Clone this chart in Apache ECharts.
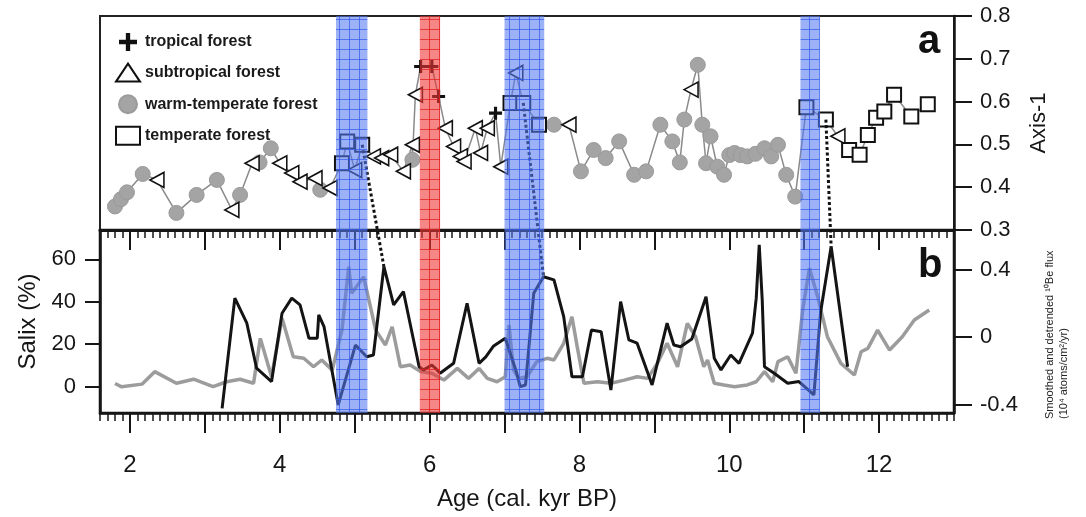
<!DOCTYPE html>
<html>
<head>
<meta charset="utf-8">
<script src="https://cdn.jsdelivr.net/npm/echarts@6/dist/echarts.min.js"></script>
<style>
  html, body { margin: 0; padding: 0; background: #fff; }
  #chart { width: 1086px; height: 517px; }
</style>
</head>
<body>
<div id="chart"></div>
<script>
// Panel a: pollen-based Axis-1 scores by vegetation type (age kyr BP, score)
const tropicalForest = [[5.88,0.682],[6.03,0.682],[6.12,0.612],[6.88,0.573]];
const subtropicalForest = [
  [2.36,0.417],[3.36,0.347],[3.63,0.456],[4.0,0.456],[4.16,0.433],[4.27,0.413],
  [4.47,0.421],[4.67,0.398],[5.0,0.44],[5.25,0.472],[5.36,0.468],[5.48,0.476],[5.65,0.437],
  [5.77,0.499],[5.81,0.616],[6.21,0.538],[6.32,0.495],[6.41,0.472],[6.46,0.46],
  [6.61,0.538],[6.68,0.48],[6.77,0.538],[6.95,0.448],[7.15,0.667],[7.86,0.546],
  [9.49,0.628],[11.45,0.519]
];
const warmTemperateForest = [
  [1.8,0.355],[1.88,0.372],[1.96,0.388],[2.17,0.431],[2.62,0.34],[2.89,0.382],
  [3.16,0.417],[3.47,0.382],[3.73,0.458],[3.88,0.491],[4.54,0.394],[5.77,0.464],
  [7.66,0.546],[8.02,0.437],[8.19,0.487],[8.35,0.468],[8.53,0.507],[8.73,0.429],
  [8.89,0.437],[9.08,0.546],[9.24,0.507],[9.34,0.458],[9.40,0.558],[9.58,0.686],
  [9.64,0.546],[9.69,0.456],[9.75,0.519],[9.84,0.448],[9.93,0.429],[10.0,0.475],
  [10.07,0.48],[10.15,0.475],[10.24,0.472],[10.35,0.478],[10.47,0.491],[10.56,0.472],
  [10.65,0.499],[10.76,0.429],[10.88,0.378]
];
const temperateForest = [
  [4.83,0.456],[4.9,0.507],[5.1,0.499],[7.08,0.597],[7.25,0.597],[7.46,0.546],
  [11.03,0.587],[11.29,0.558],[11.6,0.487],[11.74,0.476],[11.85,0.522],[11.96,0.562],
  [12.07,0.577],[12.2,0.616],[12.43,0.565],[12.65,0.594]
];

// Panel b: Salix percentage and 10Be flux
const salixPct = [
  [3.23,-10.2],[3.40,41.7],[3.56,29.9],[3.69,8.7],[3.89,2.4],[4.03,34.6],[4.16,41.7],
  [4.27,38.5],[4.39,22.8],[4.50,22.8],[4.52,33.8],[4.59,28.3],[4.78,-8.6],[5.01,19.6],
  [5.16,14.1],[5.25,14.9],[5.39,56.5],[5.52,38.5],[5.65,44.8],[5.86,9.4],[5.92,7.9],
  [6.03,10.2],[6.10,7.9],[6.14,6.3],[6.32,11.0],[6.50,39.3],[6.66,11.0],[6.75,14.0],
  [6.85,19.0],[7.01,22.8],[7.15,7.9],[7.21,0.0],[7.28,0.8],[7.39,44.0],[7.52,51.8],
  [7.66,50.3],[7.79,33.0],[7.90,4.7],[8.04,4.7],[8.16,26.7],[8.29,25.9],[8.42,-1.6],
  [8.55,40.1],[8.66,22.0],[8.77,20.5],[8.97,0.8],[9.17,29.9],[9.26,19.6],[9.35,18.8],
  [9.50,22.5],[9.69,42.4],[9.80,13.4],[9.89,7.9],[10.02,14.9],[10.13,11.0],[10.31,25.2],
  [10.36,41.7],[10.40,66.8],[10.44,40.9],[10.47,9.4],[10.60,6.3],[10.78,1.6],[10.93,2.4],
  [11.13,-3.9],[11.22,35.3],[11.36,66.0],[11.58,9.4]
];
const be10Flux = [
  [1.80,-0.275],[1.89,-0.295],[2.16,-0.279],[2.33,-0.205],[2.62,-0.274],[2.85,-0.25],
  [3.11,-0.294],[3.29,-0.265],[3.47,-0.25],[3.65,-0.274],[3.74,-0.008],[3.89,-0.235],
  [4.03,0.111],[4.18,-0.117],[4.32,-0.126],[4.45,-0.176],[4.56,-0.136],[4.70,-0.196],
  [4.83,0.041],[4.92,0.417],[4.96,0.259],[5.12,0.357],[5.28,0.041],[5.41,-0.047],
  [5.50,0.061],[5.61,-0.176],[5.74,-0.166],[5.88,-0.205],[6.03,-0.215],[6.19,-0.255],
  [6.37,-0.186],[6.52,-0.245],[6.66,-0.186],[6.77,-0.245],[6.90,-0.265],[7.01,-0.235],
  [7.06,0.071],[7.12,-0.196],[7.19,-0.245],[7.30,-0.235],[7.43,-0.146],[7.57,-0.126],
  [7.66,-0.136],[7.79,-0.037],[7.90,0.12],[7.97,-0.057],[8.06,-0.274],[8.24,-0.265],
  [8.42,-0.274],[8.60,-0.255],[8.77,-0.235],[8.91,-0.245],[9.04,-0.156],[9.17,-0.037],
  [9.31,-0.176],[9.44,0.081],[9.55,0.002],[9.66,-0.176],[9.71,-0.136],[9.80,-0.274],
  [9.93,-0.284],[10.07,-0.294],[10.24,-0.284],[10.36,-0.265],[10.47,-0.205],[10.58,-0.265],
  [10.65,-0.146],[10.78,-0.117],[10.89,-0.215],[10.98,0.16],[11.07,0.407],[11.18,0.239],
  [11.31,0.002],[11.49,-0.156],[11.67,-0.225],[11.76,-0.087],[11.85,-0.067],[11.98,0.041],
  [12.14,-0.077],[12.31,0.002],[12.47,0.101],[12.67,0.16]
];

// Abrupt event intervals (kyr BP)
const coldEvents = [[4.75,5.17],[7.0,7.53],[10.95,11.21]];
const warmEvents = [[5.87,6.14]];

// Tie lines from an Axis-1 sample to a Salix peak
const tieLines = [
  [[5.1,0.499],[5.39,56.5]],
  [[7.25,0.597],[7.52,51.8]],
  [[11.29,0.558],[11.36,66.0]]
];

// Axis ticks and labels
const ageMin = 1.6, ageMax = 13.0;
const ageMajorTicks = [2,3,4,5,6,7,8,9,10,11,12];
const ageLabels = [2,4,6,8,10,12];
const salixTicks = [0,20,40,60];
const beTicks = [-0.4,0,0.4];

const FONT = '"Liberation Sans", Arial, Helvetica, sans-serif';
const INK = '#161616';
const PLUS = 'path://M3.8,0H6.2V3.8H10V6.2H6.2V10H3.8V6.2H0V3.8H3.8Z';

function gridPattern(fill, line) {
  const c = document.createElement('canvas');
  c.width = 10; c.height = 10;
  const g = c.getContext('2d');
  g.fillStyle = fill; g.fillRect(0, 0, 10, 10);
  g.fillStyle = line; g.fillRect(9, 0, 1, 10); g.fillRect(0, 9, 10, 1);
  return { image: c, repeat: 'repeat' };
}
const bluePattern = gridPattern('rgba(85,120,240,0.58)', 'rgba(50,90,235,0.7)');
const redPattern = gridPattern('rgba(240,55,55,0.6)', 'rgba(225,30,30,0.75)');

function bandAreas() {
  const list = [];
  coldEvents.forEach(b => list.push([{ xAxis: b[0], itemStyle: { color: bluePattern, opacity: 1 } }, { xAxis: b[1] }]));
  warmEvents.forEach(b => list.push([{ xAxis: b[0], itemStyle: { color: redPattern, opacity: 1 } }, { xAxis: b[1] }]));
  return list;
}

// all Axis-1 samples in age order, joined by a thin line
const allSamples = [].concat(tropicalForest, subtropicalForest, warmTemperateForest, temperateForest)
  .slice().sort((a, b) => a[0] - b[0]);

const chart = echarts.init(document.getElementById('chart'), null, { renderer: 'canvas' });

const tickLine = { color: INK, width: 2 };
const labelStyle = { color: INK, fontFamily: FONT, fontSize: 22 };

const option = {
  backgroundColor: '#fff',
  animation: false,
  textStyle: { fontFamily: FONT },
  grid: [
    { left: 100, right: 132, top: 16, height: 214, show: true, borderColor: '#222', borderWidth: 2, backgroundColor: 'transparent' },
    { left: 100, right: 132, top: 230, height: 183, show: true, borderColor: '#111', borderWidth: 2.5, backgroundColor: 'transparent' }
  ],
  legend: {
    orient: 'vertical', left: 110, top: 28,
    itemWidth: 24, itemHeight: 18, itemGap: 11.6,
    symbolRotate: 0,
    textStyle: { fontFamily: FONT, fontSize: 16, fontWeight: 'bold', color: '#1a1a1a' },
    data: [
      { name: 'tropical forest', icon: PLUS },
      { name: 'subtropical forest', icon: 'triangle' },
      { name: 'warm-temperate forest', icon: 'circle' },
      { name: 'temperate forest', icon: 'rect' }
    ]
  },
  xAxis: [
    { gridIndex: 0, type: 'value', min: ageMin, max: ageMax, show: false },
    { gridIndex: 1, type: 'value', min: ageMin, max: ageMax, position: 'bottom',
      axisLine: { show: true, onZero: false, lineStyle: { color: INK, width: 2.5 } },
      axisTick: { show: true, customValues: ageMajorTicks, length: 20, lineStyle: tickLine },
      axisLabel: { show: true, customValues: ageLabels, margin: 40, ...labelStyle, fontSize: 24 },
      splitLine: { show: false },
      name: 'Age (cal. kyr BP)', nameLocation: 'middle', nameGap: 74,
      nameTextStyle: { color: INK, fontFamily: FONT, fontSize: 24 } },
    { gridIndex: 1, type: 'value', min: ageMin, max: ageMax, interval: 0.1, position: 'bottom',
      axisLine: { show: false, onZero: false },
      axisTick: { show: true, length: 8, lineStyle: { color: INK, width: 1.5 } },
      axisLabel: { show: false }, splitLine: { show: false } },
    { gridIndex: 1, type: 'value', min: ageMin, max: ageMax, position: 'top',
      axisLine: { show: true, onZero: false, lineStyle: { color: INK, width: 3 } },
      axisTick: { show: true, inside: true, customValues: ageMajorTicks, length: 20, lineStyle: tickLine },
      axisLabel: { show: false }, splitLine: { show: false } },
    { gridIndex: 1, type: 'value', min: ageMin, max: ageMax, interval: 0.1, position: 'top',
      axisLine: { show: false, onZero: false },
      axisTick: { show: true, inside: true, length: 8, lineStyle: { color: INK, width: 1.5 } },
      axisLabel: { show: false }, splitLine: { show: false } }
  ],
  yAxis: [
    { gridIndex: 0, type: 'value', position: 'right', min: 0.3, max: 0.8, interval: 0.1,
      axisLine: { show: true, onZero: false, lineStyle: { color: INK, width: 2.5 } },
      axisTick: { show: true, length: 18, lineStyle: tickLine },
      axisLabel: { show: true, margin: 26, ...labelStyle, formatter: v => v.toFixed(1) },
      splitLine: { show: false },
      name: 'Axis-1', nameLocation: 'middle', nameGap: 74, nameRotate: 90,
      nameTextStyle: { color: INK, fontFamily: FONT, fontSize: 22 } },
    { gridIndex: 1, type: 'value', position: 'left', min: -12.4, max: 73.8,
      axisLine: { show: true, onZero: false, lineStyle: { color: INK, width: 2.5 } },
      axisTick: { show: true, customValues: salixTicks, length: 15, lineStyle: tickLine },
      axisLabel: { show: true, customValues: salixTicks, margin: 24, ...labelStyle },
      splitLine: { show: false },
      name: 'Salix (%)', nameLocation: 'middle', nameGap: 58, nameRotate: 90,
      nameTextStyle: { color: INK, fontFamily: FONT, fontSize: 24 } },
    { gridIndex: 1, type: 'value', position: 'right', min: -0.45, max: 0.634,
      axisLine: { show: true, onZero: false, lineStyle: { color: INK, width: 2.5 } },
      axisTick: { show: true, customValues: beTicks, length: 18, lineStyle: tickLine },
      axisLabel: { show: true, customValues: beTicks, margin: 26, ...labelStyle },
      splitLine: { show: false } }
  ],
  series: [
    { name: 'samples', type: 'line', xAxisIndex: 0, yAxisIndex: 0, data: allSamples,
      showSymbol: false, symbol: 'none', silent: true, z: 2,
      lineStyle: { color: '#8a8a8a', width: 1.5 } },
    { name: 'warm-temperate forest', type: 'scatter', xAxisIndex: 0, yAxisIndex: 0,
      data: warmTemperateForest, symbol: 'circle', symbolSize: 15, z: 3,
      itemStyle: { color: '#a4a4a4', borderColor: '#9a9a9a', borderWidth: 1, opacity: 1 } },
    { name: 'subtropical forest', type: 'scatter', xAxisIndex: 0, yAxisIndex: 0,
      data: subtropicalForest, symbol: 'triangle', symbolSize: [15, 14], symbolRotate: 90, z: 4,
      itemStyle: { color: '#fff', borderColor: '#111', borderWidth: 1.6, opacity: 1 } },
    { name: 'temperate forest', type: 'scatter', xAxisIndex: 0, yAxisIndex: 0,
      data: temperateForest, symbol: 'rect', symbolSize: 14, z: 4,
      itemStyle: { color: '#fff', borderColor: '#111', borderWidth: 2, opacity: 1 } },
    { name: 'tropical forest', type: 'scatter', xAxisIndex: 0, yAxisIndex: 0,
      data: tropicalForest, symbol: PLUS, symbolSize: 13, z: 5,
      itemStyle: { color: '#111', opacity: 1 } },
    { name: 'events-a', type: 'line', xAxisIndex: 0, yAxisIndex: 0, data: [], z: 10, silent: true,
      markArea: { silent: true, z: 10, data: bandAreas() } },

    { name: '10Be flux', type: 'line', xAxisIndex: 1, yAxisIndex: 2, data: be10Flux,
      showSymbol: false, symbol: 'none', z: 2, silent: true,
      lineStyle: { color: '#9c9c9c', width: 3.5 } },
    { name: 'Salix', type: 'line', xAxisIndex: 1, yAxisIndex: 1, data: salixPct,
      showSymbol: false, symbol: 'none', z: 3, silent: true,
      lineStyle: { color: '#141414', width: 3 } },
    { name: 'events-b', type: 'line', xAxisIndex: 1, yAxisIndex: 1, data: [], z: 10, silent: true,
      markArea: { silent: true, z: 10, data: bandAreas() } }
  ]
};

chart.setOption(option);

// dotted tie lines and panel annotations
const graphics = tieLines.map((t, i) => {
  const p0 = chart.convertToPixel({ xAxisIndex: 0, yAxisIndex: 0 }, t[0]);
  const p1 = chart.convertToPixel({ xAxisIndex: 1, yAxisIndex: 1 }, t[1]);
  return {
    type: 'polyline', id: 'tie' + i, z: 6, silent: true,
    shape: { points: [p0, p1] },
    style: { stroke: '#111', lineWidth: 3, lineDash: [3, 2.5], fill: null }
  };
});
graphics.push(
  { type: 'text', id: 'labelA', z: 20, left: 918, top: 22,
    style: { text: 'a', fill: '#111', font: 'bold 40px ' + FONT } },
  { type: 'text', id: 'labelB', z: 20, left: 918, top: 246,
    style: { text: 'b', fill: '#111', font: 'bold 40px ' + FONT } },
  { type: 'text', id: 'beTitle1', z: 20, x: 1050, y: 419, rotation: Math.PI / 2,
    style: { text: 'Smoothed and detrended \u00b9\u2070Be flux', fill: '#222',
      font: '11px ' + FONT, align: 'left', verticalAlign: 'middle' } },
  { type: 'text', id: 'beTitle2', z: 20, x: 1064, y: 419, rotation: Math.PI / 2,
    style: { text: '(10\u2074 atoms/cm\u00b2/yr)', fill: '#222',
      font: '11px ' + FONT, align: 'left', verticalAlign: 'middle' } }
);
chart.setOption({ graphic: graphics });
</script>
</body>
</html>
